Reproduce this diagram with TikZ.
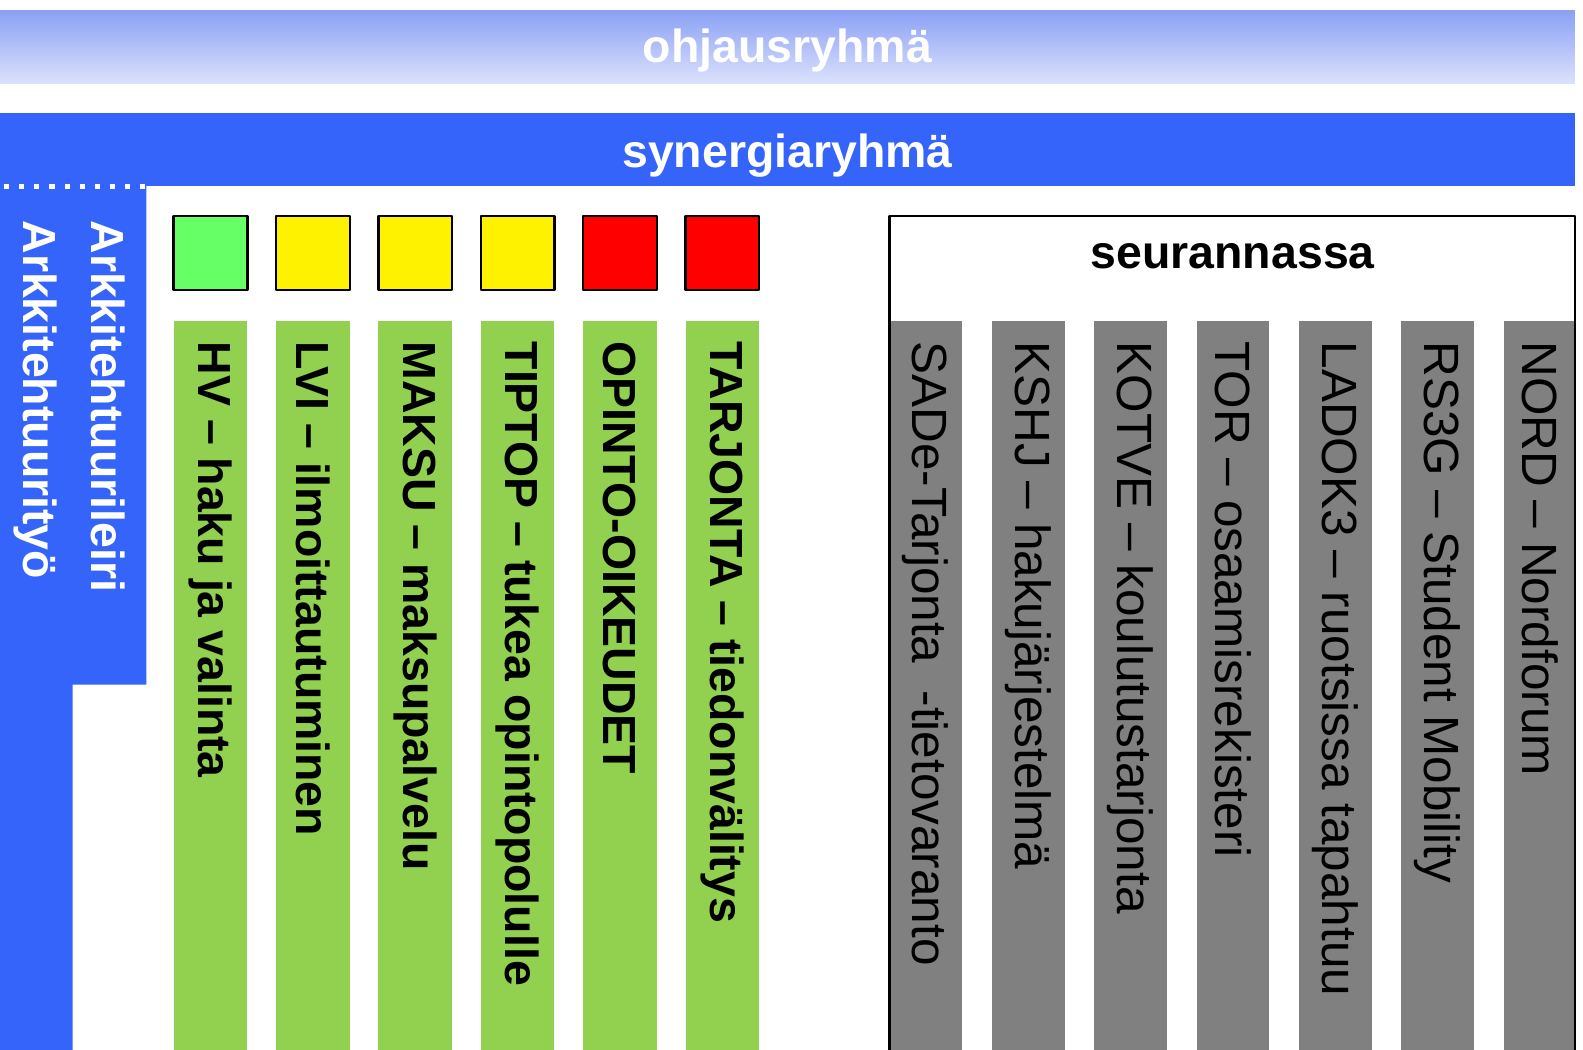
\documentclass[tikz,border=0pt]{standalone}
\usepackage{fontspec}
\setmainfont{Liberation Sans}
\definecolor{synblue}{RGB}{52,100,250}
\definecolor{ohjtop}{RGB}{138,160,245}
\definecolor{ohjbot}{RGB}{220,226,252}
\definecolor{projgreen}{RGB}{146,208,80}
\definecolor{seugray}{RGB}{128,128,128}
\definecolor{okgreen}{RGB}{102,255,102}
\begin{document}
\begin{tikzpicture}[x=0.5pt, y=-0.5pt, line join=round,
  headtext/.style={font=\fontsize{23}{27}\selectfont\bfseries, inner sep=0pt},
  coltext/.style={font=\fontsize{23}{27}\selectfont\bfseries, rotate=-90, anchor=west, inner sep=0pt},
  graytext/.style={font=\fontsize{24.5}{28}\selectfont, rotate=-90, anchor=west, inner sep=0pt}]
\useasboundingbox (0,0) rectangle (1568,1040);
\fill[white] (0,0) rectangle (1568,1040);
% ohjausryhma
\shade[top color=ohjtop, bottom color=ohjbot] (0,10) rectangle (1560,83);
\node[headtext, white] (ohj) at (780,50) {ohjausryhmä};
% synergiaryhma and the architecture block
\fill[synblue] (0,112) -- (1560,112) -- (1560,184) -- (145,184) -- (145,678) -- (72,678) -- (72,1040) -- (0,1040) -- cycle;
\draw[white, line width=2.5pt, dash pattern=on 2.5pt off 5pt] (4,185) -- (145,185);
\node[headtext, white] (syn) at (780,154) {synergiaryhmä};
\node[coltext, white] (tyo) at (35,218) {Arkkitehtuurityö};
\node[coltext, white] (leiri) at (107,218) {Arkkitehtuurileiri};
% status squares and project columns
\foreach \i/\c/\t in {0/okgreen/HV – haku ja valinta, 1/yellow/LVI – ilmoittautuminen,
    2/yellow/MAKSU – maksupalvelu, 3/yellow/TIPTOP – tukea opintopolulle,
    4/red/OPINTO-OIKEUDET, 5/red/TARJONTA – tiedonvälitys} {
  \draw[fill=\c, line width=1.2pt] (172+101.4*\i,214) rectangle ++(73,73);
  \fill[projgreen] (172+101.4*\i,318) rectangle ++(73,722);
  \node[coltext] (proj\i) at (208.5+101.4*\i,338) {\t};
}
% seurannassa
\foreach \i/\t in {0/SADe-Tarjonta~ -tietovaranto, 1/KSHJ – hakujärjestelmä,
    2/KOTVE – koulutustarjonta, 3/TOR – osaamisrekisteri, 4/LADOK3 – ruotsissa tapahtuu,
    5/RS3G – Student Mobility, 6/NORD – Nordforum} {
  \fill[seugray] (881+101.4*\i,318) rectangle ++(72,722);
  \node[graytext] (seu\i) at (917+101.4*\i,338) {\t};
}
\draw[line width=1.2pt] (881,1040) -- (881,214) -- (1560,214) -- (1560,1040);
\node[headtext] (seur) at (1221,254) {seurannassa};
\end{tikzpicture}
\end{document}
